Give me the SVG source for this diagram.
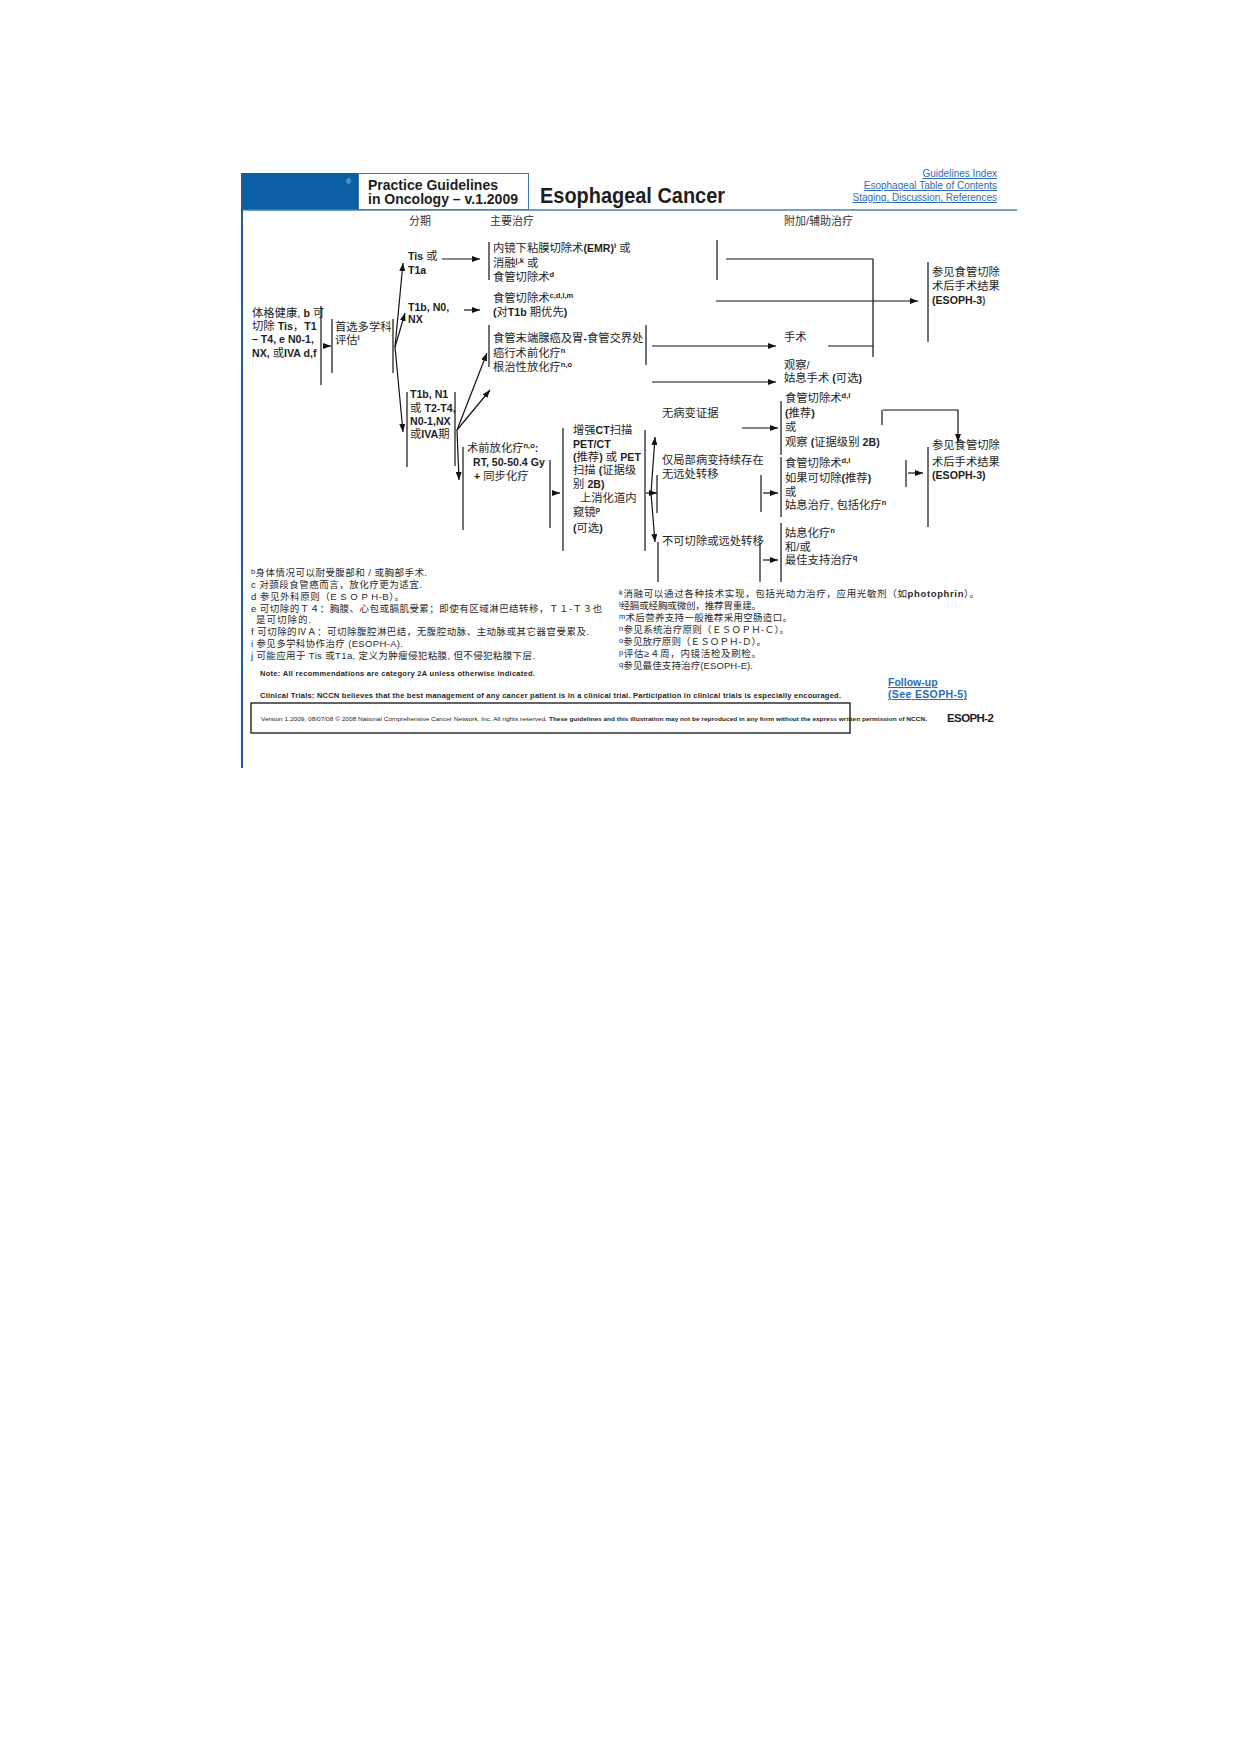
<svg xmlns="http://www.w3.org/2000/svg" width="1241" height="1754" viewBox="0 0 1241 1754">
<defs>
<style>
text{font-family:"Liberation Sans","Noto Sans CJK SC",sans-serif;fill:#1e1e1e}
.m{font-size:11.3px}
.b{font-weight:bold;font-size:10.6px}
.s{font-size:7.5px;font-weight:bold}
.h{font-size:11px;fill:#333}
.fn{font-size:9.5px;fill:#2a2a2a}
.fs{font-size:7.5px}
.lk{font-size:10px;fill:#2a6cb3;text-decoration:underline}
.ln{stroke:#111;stroke-width:1.2;fill:none}
.ar{stroke:#111;stroke-width:1.2;fill:none;marker-end:url(#ah)}
</style>
<marker id="ah" viewBox="0 0 8 6" refX="8" refY="3" markerWidth="8" markerHeight="6" markerUnits="userSpaceOnUse" orient="auto"><path d="M0,0 L8,3 L0,6 z" fill="#111"/></marker>
</defs>
<rect width="1241" height="1754" fill="#fff"/>

<g id="header">
<rect x="242" y="173" width="116" height="37" fill="#0b5fa5"/>
<rect x="358.5" y="173.5" width="170" height="36" fill="#fff" stroke="#3b78b4" stroke-width="1"/>
<line x1="242" y1="210" x2="1017" y2="210" stroke="#4a7fa8" stroke-width="1.5"/>
<line x1="242" y1="173" x2="242" y2="768" stroke="#1f5e9e" stroke-width="2"/>
<text x="346" y="184" style="font-size:7px;fill:#c8d6ea">®</text>
<text x="368" y="190" style="font-size:15px;font-weight:bold" textLength="130" lengthAdjust="spacingAndGlyphs">Practice Guidelines</text>
<text x="368" y="204" style="font-size:15px;font-weight:bold" textLength="150" lengthAdjust="spacingAndGlyphs">in Oncology – v.1.2009</text>
<text x="540" y="203" style="font-size:22px;font-weight:bold" textLength="185" lengthAdjust="spacingAndGlyphs">Esophageal Cancer</text>
<text class="lk" x="997" y="177" text-anchor="end">Guidelines Index</text>
<text class="lk" x="997" y="189" text-anchor="end">Esophageal Table of Contents</text>
<text class="lk" x="997" y="201" text-anchor="end">Staging, Discussion, References</text>
<text class="h" x="409" y="225">分期</text>
<text class="h" x="490" y="225">主要治疗</text>
<text class="h" x="784" y="225">附加/辅助治疗</text>
</g>

<g id="n-fit">
<text class="m" x="252" y="317">体格健康, <tspan class="b">b</tspan> 可</text>
<text class="m" x="252" y="330">切除 <tspan class="b">Tis</tspan>，<tspan class="b">T1</tspan></text>
<text class="m" x="252" y="343"><tspan class="b">– T4, e N0-1,</tspan></text>
<text class="m" x="252" y="357"><tspan class="b">NX,</tspan> 或<tspan class="b">IVA d,f</tspan></text>
<line class="ln" x1="321" y1="306" x2="321" y2="385"/>
</g>

<g id="n-eval">
<line class="ln" x1="332" y1="319" x2="332" y2="373"/>
<text class="m" x="335" y="331">首选多学科</text>
<text class="m" x="335" y="344">评估<tspan class="s" dy="-4">i</tspan></text>
<line class="ln" x1="393" y1="319" x2="393" y2="373"/>
</g>

<g id="n-tis">
<text class="m" x="408" y="260"><tspan class="b">Tis</tspan> 或</text>
<text class="m" x="408" y="274"><tspan class="b">T1a</tspan></text>
</g>

<g id="n-t1bn0">
<text class="m" x="408" y="311"><tspan class="b">T1b, N0,</tspan></text>
<text class="m" x="408" y="323"><tspan class="b">NX</tspan></text>
</g>

<g id="n-t1bn1">
<line class="ln" x1="407" y1="392" x2="407" y2="467"/>
<text class="m" x="410" y="398"><tspan class="b">T1b, N1</tspan></text>
<text class="m" x="410" y="412">或 <tspan class="b">T2-T4,</tspan></text>
<text class="m" x="410" y="425"><tspan class="b">N0-1,NX</tspan></text>
<text class="m" x="410" y="438">或<tspan class="b">IVA</tspan>期</text>
<line class="ln" x1="455" y1="392" x2="455" y2="466"/>
</g>

<g id="n-emr">
<line class="ln" x1="489" y1="242" x2="489" y2="280"/>
<text class="m" x="493" y="252">内镜下粘膜切除术<tspan class="b">(EMR)</tspan><tspan class="s" dy="-4">i</tspan><tspan dy="4"> 或</tspan></text>
<text class="m" x="493" y="267">消融<tspan class="s" dy="-4">j,k</tspan><tspan dy="4"> 或</tspan></text>
<text class="m" x="493" y="281">食管切除术<tspan class="s" dy="-4">d</tspan></text>
<line class="ln" x1="717" y1="240" x2="717" y2="280"/>
</g>

<g id="n-esoph1">
<text class="m" x="493" y="302">食管切除术<tspan class="s" dy="-4">c,d,l,m</tspan></text>
<text class="m" x="493" y="316"><tspan class="b">(</tspan>对<tspan class="b">T1b</tspan> 期优先<tspan class="b">)</tspan></text>
</g>

<g id="n-adeno">
<line class="ln" x1="489" y1="325" x2="489" y2="367"/>
<text class="m" x="493" y="342">食管末端腺癌及胃<tspan class="b">-</tspan>食管交界处</text>
<text class="m" x="493" y="357">癌行术前化疗<tspan class="s" dy="-4">n</tspan></text>
<text class="m" x="493" y="371">根治性放化疗<tspan class="s" dy="-4">n,o</tspan></text>
<line class="ln" x1="646" y1="325" x2="646" y2="365"/>
</g>

<g id="n-surgery">
<text class="m" x="784" y="341">手术</text>
</g>

<g id="n-observe">
<text class="m" x="784" y="369">观察/</text>
<text class="m" x="784" y="382">姑息手术 <tspan class="b">(</tspan>可选<tspan class="b">)</tspan></text>
</g>

<g id="n-see1">
<line class="ln" x1="928" y1="262" x2="928" y2="342"/>
<text class="m" x="932" y="276">参见食管切除</text>
<text class="m" x="932" y="290">术后手术结果</text>
<text class="m" x="932" y="304"><tspan class="b">(ESOPH-3</tspan><tspan class="b" style="fill:#2a6cb3">)</tspan></text>
</g>

<g id="n-preop">
<line class="ln" x1="463" y1="447" x2="463" y2="530"/>
<text class="m" x="467" y="452">术前放化疗<tspan class="s" dy="-4">n,o</tspan><tspan class="b" dy="4">:</tspan></text>
<text class="m" x="473" y="466"><tspan class="b">RT, 50-50.4 Gy</tspan></text>
<text class="m" x="474" y="480"><tspan class="b">+</tspan> 同步化疗</text>
<line class="ln" x1="550" y1="460" x2="550" y2="528"/>
</g>

<g id="n-ct">
<line class="ln" x1="563" y1="428" x2="563" y2="551"/>
<text class="m" x="573" y="434">增强<tspan class="b">CT</tspan>扫描</text>
<text class="m" x="573" y="448"><tspan class="b">PET/CT</tspan></text>
<text class="m" x="573" y="461"><tspan class="b">(</tspan>推荐<tspan class="b">)</tspan> 或 <tspan class="b">PET</tspan></text>
<text class="m" x="573" y="474">扫描 <tspan class="b">(</tspan>证据级</text>
<text class="m" x="573" y="488">别 <tspan class="b">2B)</tspan></text>
<text class="m" x="580" y="502">上消化道内</text>
<text class="m" x="573" y="516">窥镜<tspan class="s" dy="-4">p</tspan></text>
<text class="m" x="573" y="532"><tspan class="b">(</tspan>可选<tspan class="b">)</tspan></text>
<line class="ln" x1="645" y1="430" x2="645" y2="551"/>
</g>

<g id="n-noevid">
<text class="m" x="662" y="417">无病变证据</text>
</g>

<g id="n-local">
<text class="m" x="662" y="464">仅局部病变持续存在</text>
<line class="ln" x1="657" y1="475" x2="657" y2="513"/>
<text class="m" x="662" y="478">无远处转移</text>
<line class="ln" x1="761" y1="475" x2="761" y2="512"/>
</g>

<g id="n-unres">
<text class="m" x="662" y="545">不可切除或远处转移</text>
<line class="ln" x1="658" y1="542" x2="658" y2="582"/>
<line class="ln" x1="760" y1="543" x2="760" y2="582"/>
</g>

<g id="n-esoph2">
<line class="ln" x1="781" y1="401" x2="781" y2="455"/>
<text class="m" x="785" y="402">食管切除术<tspan class="s" dy="-4">d,l</tspan></text>
<text class="m" x="785" y="417"><tspan class="b">(</tspan>推荐<tspan class="b">)</tspan></text>
<text class="m" x="785" y="431">或</text>
<text class="m" x="785" y="446">观察 <tspan class="b">(</tspan>证据级别 <tspan class="b">2B)</tspan></text>
<line class="ln" x1="882" y1="410" x2="882" y2="425"/>
</g>

<g id="n-esoph3">
<line class="ln" x1="781" y1="457" x2="781" y2="517"/>
<text class="m" x="785" y="467">食管切除术<tspan class="s" dy="-4">d,l</tspan></text>
<text class="m" x="785" y="482">如果可切除<tspan class="b">(</tspan>推荐<tspan class="b">)</tspan></text>
<text class="m" x="785" y="496">或</text>
<text class="m" x="785" y="509">姑息治疗, 包括化疗<tspan class="s" dy="-4">n</tspan></text>
<line class="ln" x1="906" y1="460" x2="906" y2="487"/>
</g>

<g id="n-palliative">
<line class="ln" x1="781" y1="523" x2="781" y2="582"/>
<text class="m" x="785" y="537">姑息化疗<tspan class="s" dy="-4">n</tspan></text>
<text class="m" x="785" y="551">和/或</text>
<text class="m" x="785" y="564">最佳支持治疗<tspan class="s" dy="-4">q</tspan></text>
</g>

<g id="n-see2">
<line class="ln" x1="928" y1="447" x2="928" y2="527"/>
<text class="m" x="932" y="449">参见食管切除</text>
<text class="m" x="932" y="466">术后手术结果</text>
<text class="m" x="932" y="479"><tspan class="b">(ESOPH-3)</tspan></text>
</g>

<g id="connectors">
<path class="ar" d="M323,346 H331"/>
<path class="ar" d="M395,347 L403,263"/>
<path class="ar" d="M395,347 L405,313"/>
<path class="ar" d="M395,347 L403,432"/>
<path class="ar" d="M442,259 H480"/>
<path class="ar" d="M464,310 H480"/>
<path class="ar" d="M457,430 L487,353"/>
<path class="ar" d="M457,430 L490,390"/>
<path class="ar" d="M457,430 L459,480"/>
<path class="ln" d="M726,259 H873 V357"/>
<path class="ar" d="M716,301 H918"/>
<path class="ar" d="M652,346 H776"/>
<path class="ln" d="M828,346 H873"/>
<path class="ar" d="M652,382 H776"/>
<path class="ar" d="M552,493 H560"/>
<path class="ar" d="M646,493 H657"/>
<path class="ar" d="M651,493 L655,437"/>
<path class="ar" d="M651,493 L655,542"/>
<path class="ar" d="M742,428 H778"/>
<path class="ar" d="M763,493 H778"/>
<path class="ar" d="M763,560 H778"/>
<path class="ar" d="M883,410 H958 V442"/>
<path class="ar" d="M908,473 H923"/>
</g>

<g id="footnotes">
<text class="fn" x="251" y="575.5" textLength="176"><tspan class="fs" dy="-2">b</tspan><tspan dy="2">身体情况可以耐受腹部和 / 或胸部手术.</tspan></text>
<text class="fn" x="251" y="587.5" textLength="171">c 对颈段食管癌而言，放化疗更为适宜.</text>
<text class="fn" x="251" y="599.5" textLength="153">d 参见外科原则（E S O P H-B）。</text>
<text class="fn" x="251" y="611.5" textLength="351">e 可切除的Ｔ４：胸膜、心包或膈肌受累；即使有区域淋巴结转移，Ｔ１-Ｔ３也</text>
<text class="fn" x="256" y="622.5" textLength="55">是可切除的.</text>
<text class="fn" x="251" y="634.5" textLength="338">f 可切除的ⅣＡ：可切除腹腔淋巴结，无腹腔动脉、主动脉或其它器官受累及.</text>
<text class="fn" x="251" y="646.5" textLength="152">i 参见多学科协作治疗 (ESOPH-A).</text>
<text class="fn" x="251" y="658.5" textLength="284">j 可能应用于 Tis 或T1a, 定义为肿瘤侵犯粘膜, 但不侵犯粘膜下层.</text>
<text class="fn" x="619" y="596.5" textLength="360"><tspan class="fs" dy="-2">k</tspan><tspan dy="2">消融可以通过各种技术实现，包括光动力治疗，应用光敏剂（如</tspan><tspan font-weight="bold">photophrin</tspan>）。</text>
<text class="fn" x="619" y="608.5" textLength="142"><tspan class="fs" dy="-2">l</tspan><tspan dy="2">经膈或经胸或微创，推荐胃重建。</tspan></text>
<text class="fn" x="619" y="620.5" textLength="173"><tspan class="fs" dy="-2">m</tspan><tspan dy="2">术后营养支持一般推荐采用空肠造口。</tspan></text>
<text class="fn" x="619" y="632.5" textLength="170"><tspan class="fs" dy="-2">n</tspan><tspan dy="2">参见系统治疗原则（ＥＳＯＰＨ-Ｃ）。</tspan></text>
<text class="fn" x="619" y="644.5" textLength="147"><tspan class="fs" dy="-2">o</tspan><tspan dy="2">参见放疗原则（ＥＳＯＰＨ-Ｄ）。</tspan></text>
<text class="fn" x="619" y="656.5" textLength="142"><tspan class="fs" dy="-2">p</tspan><tspan dy="2">评估≥４周，内镜活检及刷检。</tspan></text>
<text class="fn" x="619" y="668.5" textLength="134"><tspan class="fs" dy="-2">q</tspan><tspan dy="2">参见最佳支持治疗(ESOPH-E).</tspan></text>
</g>

<g id="footer">
<text x="260" y="676" style="font-size:7.5px;font-weight:bold" textLength="275">Note:  All recommendations are category 2A unless otherwise indicated.</text>
<text x="260" y="698" style="font-size:7.5px;font-weight:bold" textLength="581">Clinical Trials: NCCN believes that the best management of any cancer patient is in a clinical trial.  Participation in clinical trials is especially encouraged.</text>
<text x="888" y="686" style="font-size:10.5px;font-weight:bold;fill:#2a6cb3;text-decoration:underline">Follow-up</text>
<text x="888" y="698" style="font-size:10.5px;font-weight:bold;fill:#2a6cb3;text-decoration:underline" textLength="79">(See ESOPH-5)</text>
<rect x="251" y="703" width="599" height="30" fill="none" stroke="#111" stroke-width="1.3"/>
<text x="261" y="721" style="font-size:5.5px" textLength="666" lengthAdjust="spacingAndGlyphs">Version 1.2009, 08/07/08 © 2008 National Comprehensive Cancer Network, Inc. All rights reserved. <tspan font-weight="bold">These guidelines and this illustration may not be reproduced in any form without the express written permission of NCCN.</tspan></text>
<text x="947" y="722" style="font-size:11.5px;font-weight:bold" textLength="47">ESOPH-2</text>
</g>
</svg>
